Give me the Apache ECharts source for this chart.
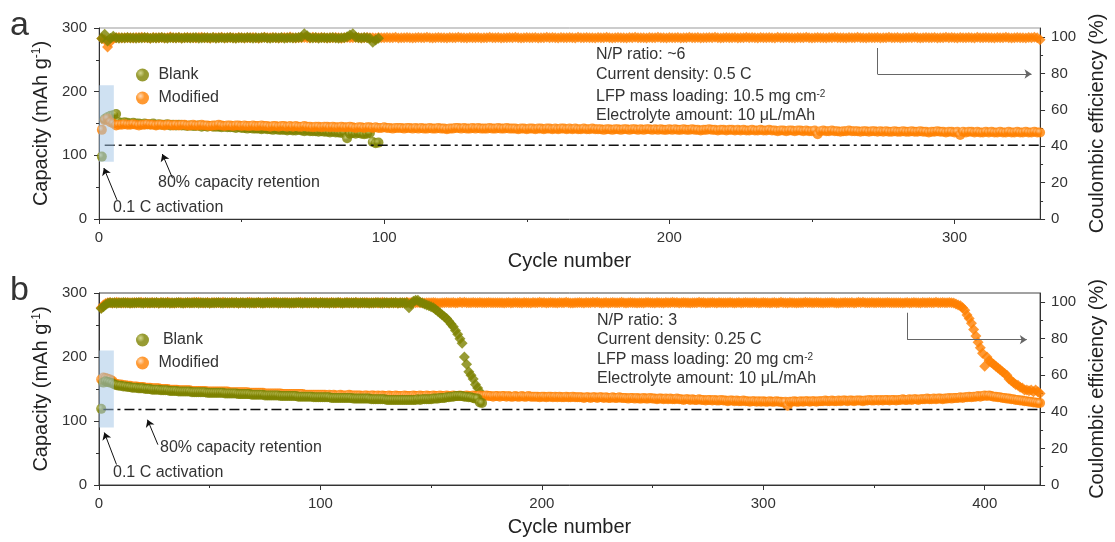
<!DOCTYPE html>
<html>
<head>
<meta charset="utf-8">
<title>Cycling performance</title>
<script src="https://cdn.jsdelivr.net/npm/echarts@6/dist/echarts.min.js"></script>
<style>
  html, body { margin: 0; padding: 0; background: #fff; }
  #main { width: 1115px; height: 542px; }
</style>
</head>
<body>
<div id="main"></div>
<script>
// ---------- data (one value per cycle, cycle = index + 1) ----------

// panel a: N/P ~6, 0.5 C
const blankCapA = [
  98, 157, 160, 162, 163, 165,
  152, 151, 152, 151, 150, 151, 150, 150, 149, 150,
  149, 149, 150, 148, 149, 148, 148, 149, 147, 148,
  147, 148, 147, 147, 146, 147, 146, 146, 147, 145,
  146, 145, 146, 145, 145, 145, 144, 145, 144, 144,
  144, 143, 144, 143, 143, 142, 143, 142, 142, 142,
  141, 142, 141, 141, 140, 141, 140, 140, 140, 139,
  140, 139, 139, 140, 139, 138, 139, 138, 138, 138,
  137, 138, 137, 137, 136, 137, 136, 136, 135, 136,
  127, 134, 135, 134, 135, 134, 133, 134, 135, 121, 119, 120
];
const modCapA = [
  140, 155, 158, 152, 150,
  147, 148, 148, 149, 148, 148, 149, 148, 147, 148,
  148, 149, 148, 148, 147, 148, 148, 147, 148, 148,
  147, 148, 147, 148, 148, 147, 147, 148, 147, 147,
  148, 147, 147, 146, 147, 147, 148, 147, 146, 147,
  147, 146, 147, 147, 146, 147, 146, 146, 147, 146,
  146, 147, 146, 146, 145, 146, 146, 145, 146, 146,
  145, 146, 145, 146, 145, 145, 146, 145, 145, 144,
  145, 145, 144, 145, 145, 144, 145, 144, 144, 145,
  144, 144, 145, 144, 143, 144, 144, 143, 144, 144,
  143, 144, 143, 143, 144, 143, 143, 142, 143, 143,
  143, 142, 143, 143, 142, 143, 142, 143, 142, 142,
  143, 142, 142, 143, 142, 142, 141, 142, 142, 143,
  143, 142, 143, 142, 142, 143, 142, 143, 142, 142,
  142, 143, 142, 142, 143, 142, 142, 143, 142, 142,
  142, 141, 142, 142, 141, 142, 142, 141, 142, 142,
  141, 142, 142, 141, 142, 141, 142, 142, 141, 142,
  141, 142, 141, 141, 142, 141, 141, 142, 141, 141,
  141, 140, 141, 141, 140, 141, 141, 140, 141, 141,
  140, 141, 141, 140, 141, 140, 141, 141, 140, 141,
  140, 141, 140, 140, 141, 140, 141, 140, 140, 141,
  140, 140, 141, 140, 140, 139, 140, 140, 141, 140,
  140, 139, 140, 140, 139, 140, 140, 139, 140, 139,
  140, 139, 139, 140, 139, 139, 140, 139, 139, 140,
  139, 139, 138, 139, 139, 138, 139, 139, 138, 139,
  139, 138, 139, 138, 138, 139, 133, 138, 139, 138,
  138, 139, 138, 138, 137, 138, 138, 139, 138, 138,
  138, 137, 138, 138, 137, 138, 138, 137, 138, 137,
  138, 137, 137, 138, 137, 137, 138, 137, 137, 138,
  137, 137, 138, 137, 137, 136, 137, 137, 138, 137,
  137, 136, 137, 137, 136, 137, 132, 137, 136, 137,
  137, 136, 137, 136, 136, 137, 136, 137, 136, 136,
  137, 136, 136, 137, 136, 136, 137, 136, 136, 137,
  136, 136, 137, 136, 136
];
const blankCeA = [
  99.2, 101.5, 97.8, 99.3, 100.4, 99.6, 99.4, 99.7, 99.5, 99.8,
  99.5, 99.6, 99.4, 99.7, 99.5, 99.8, 99.6, 99.4, 99.7, 99.5,
  99.6, 99.8, 99.5, 99.4, 99.7, 99.6, 99.5, 99.8, 99.4, 99.6,
  99.7, 99.5, 99.6, 99.8, 99.4, 99.5, 99.7, 99.6, 99.5, 99.8,
  99.4, 99.6, 99.7, 99.5, 99.6, 99.8, 99.5, 99.4, 99.7, 99.6,
  99.5, 99.8, 99.6, 99.4, 99.7, 99.5, 99.6, 99.8, 99.5, 99.4,
  99.7, 99.6, 99.5, 99.8, 99.4, 99.6, 99.7, 99.5, 99.6, 99.8,
  99.9, 101.8, 100.8, 99.6, 99.5, 99.8, 99.4, 99.6, 99.7, 99.5,
  99.6, 99.8, 99.5, 99.4, 99.7, 99.6, 100.2, 101.2, 101.8, 99.9,
  99.6, 99.5, 99.8, 99.6, 99.4, 97.2, 98.4, 99.3
];
const modCeA = [
  99.2, 98.6, 94.5, 97.4, 99.4, 99.6, 99.8, 99.5, 99.7, 99.6,
  99.7, 99.5, 99.8, 99.6, 99.9, 99.6, 99.7, 99.4, 99.8, 99.7,
  99.6, 99.8, 99.5, 99.7, 100.1, 99.6, 99.7, 99.8, 99.5, 99.6,
  99.8, 99.6, 99.7, 99.5, 99.8, 99.9, 99.6, 99.7, 99.4, 99.8,
  99.7, 99.6, 99.9, 99.5, 99.7, 99.8, 99.6, 99.5, 99.8, 99.7,
  99.5, 99.7, 99.6, 99.8, 99.7, 99.4, 99.6, 99.9, 99.7, 99.6,
  99.8, 99.7, 99.5, 99.6, 99.8, 99.7, 100.0, 99.6, 99.5, 99.7,
  99.6, 99.8, 99.7, 99.5, 99.9, 99.6, 99.7, 99.8, 99.6, 99.5,
  99.7, 99.6, 99.8, 99.7, 99.4, 99.7, 99.8, 99.6, 99.7, 99.9,
  99.6, 99.5, 99.7, 99.8, 99.6, 99.7, 99.5, 99.8, 99.6, 99.7,
  99.8, 99.6, 99.7, 99.9, 99.5, 99.7, 99.6, 99.8, 99.7, 99.5,
  99.6, 99.8, 99.7, 99.6, 99.9, 99.7, 99.5, 99.6, 99.8, 99.7,
  99.7, 99.5, 99.8, 99.6, 99.7, 99.9, 99.6, 99.7, 99.5, 99.8,
  99.6, 99.7, 99.8, 99.5, 99.7, 99.6, 99.9, 99.7, 99.6, 99.8,
  99.5, 99.7, 99.6, 99.8, 99.7, 99.9, 99.6, 99.5, 99.7, 99.8,
  99.7, 99.6, 99.8, 99.5, 99.7, 99.6, 99.9, 99.7, 99.8, 99.6,
  99.5, 99.8, 99.7, 99.6, 99.8, 99.7, 99.5, 99.9, 99.6, 99.7,
  99.8, 99.6, 99.7, 99.5, 99.8, 99.7, 99.6, 99.9, 99.7, 99.5,
  99.6, 99.8, 99.7, 99.6, 99.5, 99.8, 99.7, 99.9, 99.6, 99.7,
  99.7, 99.5, 99.8, 99.6, 99.7, 99.9, 99.6, 99.7, 99.5, 99.8,
  99.6, 99.7, 99.8, 99.5, 99.7, 99.6, 99.9, 99.7, 99.6, 99.8,
  99.5, 99.7, 99.6, 99.8, 99.7, 99.9, 99.6, 99.5, 99.7, 99.8,
  99.7, 99.6, 99.8, 99.5, 99.7, 99.6, 99.9, 99.7, 99.8, 99.6,
  99.5, 99.8, 99.7, 99.6, 99.8, 99.7, 99.5, 99.9, 99.6, 99.7,
  99.8, 99.6, 99.7, 99.5, 99.8, 99.7, 99.6, 99.9, 99.7, 99.5,
  99.6, 99.8, 99.7, 99.6, 99.5, 99.8, 99.7, 99.9, 99.6, 99.7,
  99.7, 99.5, 99.8, 99.6, 99.7, 99.9, 99.6, 99.7, 99.5, 99.8,
  99.6, 99.7, 99.8, 99.5, 99.7, 99.6, 99.9, 99.7, 99.6, 99.8,
  99.5, 99.7, 99.6, 99.8, 99.7, 99.9, 99.6, 99.5, 99.7, 99.8,
  99.7, 99.6, 99.8, 99.5, 99.7, 99.6, 99.9, 99.7, 99.8, 99.6,
  99.5, 99.8, 99.7, 99.6, 99.8, 99.7, 99.5, 99.9, 99.6, 99.7,
  99.8, 99.6, 99.7, 99.5, 99.8, 99.7, 99.6, 99.9, 99.7, 99.5,
  99.6, 99.8, 99.7, 99.6, 99.5, 99.8, 99.7, 99.9, 99.6, 98.6
];

// panel b: N/P 3, 0.25 C
const blankCapB = [
  119, 160, 162, 161, 160, 159,
  157, 156, 155, 155, 154, 154, 153, 153, 152, 152,
  152, 151, 151, 151, 150, 150, 150, 149, 149, 149,
  149, 148, 148, 148, 148, 147, 147, 147, 147, 146,
  146, 146, 146, 146, 146, 145, 145, 145, 145, 145,
  145, 145, 144, 144, 144, 144, 144, 144, 144, 144,
  143, 143, 143, 143, 143, 143, 142, 142, 142, 142,
  142, 142, 141, 141, 141, 141, 141, 141, 140, 140,
  140, 140, 140, 140, 140, 139, 139, 139, 139, 139,
  139, 139, 139, 138, 138, 138, 138, 138, 138, 138,
  137, 137, 137, 137, 137, 137, 137, 137, 136, 136,
  136, 136, 136, 136, 136, 136, 136, 136, 135, 135,
  135, 135, 135, 135, 135, 135, 134, 134, 134, 134,
  134, 134, 134, 133, 133, 133, 133, 133, 133, 133,
  133, 133, 133, 133, 133, 133, 133, 134, 133, 134,
  134, 134, 134, 134, 135, 135, 135, 136, 136, 136,
  137, 137, 138, 138, 139, 139, 139, 139, 138, 138,
  137, 137, 136, 135, 135, 129, 128
];
const modCapB = [
  165, 168, 167, 166, 165, 163,
  159, 158, 157, 157, 156, 156, 155, 155, 154, 154,
  154, 153, 153, 153, 152, 152, 152, 151, 151, 151,
  151, 150, 150, 150, 150, 149, 149, 149, 149, 148,
  148, 148, 148, 148, 148, 147, 147, 147, 147, 147,
  147, 147, 146, 146, 146, 146, 146, 146, 146, 146,
  146, 146, 145, 145, 145, 145, 145, 145, 145, 145,
  145, 144, 144, 144, 144, 144, 144, 144, 143, 143,
  143, 143, 143, 143, 143, 143, 142, 142, 142, 142,
  142, 142, 142, 142, 142, 142, 141, 141, 141, 141,
  141, 141, 141, 141, 141, 141, 140, 141, 140, 141,
  140, 140, 141, 140, 140, 140, 141, 140, 140, 140,
  140, 140, 139, 140, 140, 139, 140, 140, 139, 140,
  139, 140, 139, 139, 140, 139, 139, 140, 139, 139,
  139, 140, 139, 139, 139, 140, 139, 139, 140, 139,
  139, 140, 139, 139, 140, 139, 139, 140, 139, 139,
  140, 139, 139, 140, 139, 139, 140, 139, 139, 140,
  139, 139, 140, 139, 139, 140, 139, 139, 140, 139,
  139, 138, 139, 139, 138, 139, 139, 138, 139, 138,
  138, 139, 138, 138, 139, 138, 138, 139, 138, 138,
  138, 138, 137, 138, 138, 137, 138, 138, 137, 138,
  137, 138, 137, 137, 138, 137, 137, 138, 137, 137,
  137, 137, 136, 137, 137, 136, 137, 137, 136, 137,
  137, 136, 137, 136, 136, 137, 136, 136, 137, 136,
  136, 136, 135, 136, 136, 135, 136, 135, 135, 136,
  135, 135, 136, 135, 135, 134, 135, 135, 134, 135,
  134, 135, 134, 134, 135, 134, 134, 133, 134, 134,
  133, 134, 133, 133, 134, 133, 133, 132, 133, 133,
  132, 133, 132, 132, 133, 132, 132, 131, 132, 132,
  131, 132, 131, 131, 132, 131, 131, 130, 131, 131,
  130, 131, 130, 131, 130, 130, 131, 130, 130, 131,
  130, 130, 129, 130, 124, 130, 130, 131, 130, 130,
  131, 130, 131, 131, 130, 131, 131, 130, 131, 131,
  131, 132, 131, 131, 132, 131, 131, 132, 131, 132,
  132, 131, 132, 132, 131, 132, 132, 132, 131, 132,
  132, 133, 132, 132, 133, 132, 133, 132, 133, 133,
  132, 133, 133, 132, 133, 133, 134, 133, 133, 134,
  133, 134, 134, 133, 134, 134, 134, 135, 134, 134,
  135, 134, 135, 135, 134, 135, 135, 136, 135, 136,
  136, 136, 137, 136, 137, 137, 138, 137, 138, 138,
  139, 138, 139, 140, 139, 140, 139, 138, 138, 137,
  137, 136, 136, 135, 135, 134, 134, 133, 133, 132,
  132, 131, 131, 130, 130, 129, 129, 128, 128
];
const blankCeB = [
  96.5, 97.5, 98.6,
  99.4, 99.6, 99.5, 99.7, 99.4, 99.6, 99.5, 99.8, 99.5, 99.6,
  99.4, 99.7, 99.5, 99.6, 99.8, 99.5, 99.4, 99.6, 99.7, 99.5,
  99.6, 99.5, 99.8, 99.4, 99.6, 99.7, 99.5, 99.6, 99.4, 99.7,
  99.5, 99.6, 99.8, 99.5, 99.4, 99.6, 99.7, 99.5, 99.6, 99.5,
  99.8, 99.4, 99.6, 99.7, 99.5, 99.6, 99.4, 99.7, 99.5, 99.6,
  99.8, 99.5, 99.4, 99.6, 99.7, 99.5, 99.6, 99.5, 99.8, 99.4,
  99.6, 99.7, 99.5, 99.6, 99.4, 99.7, 99.5, 99.6, 99.8, 99.5,
  99.4, 99.6, 99.7, 99.5, 99.6, 99.5, 99.8, 99.4, 99.6, 99.7,
  99.5, 99.6, 99.4, 99.7, 99.5, 99.6, 99.8, 99.5, 99.4, 99.6,
  99.7, 99.5, 99.6, 99.5, 99.8, 99.4, 99.6, 99.7, 99.5, 99.6,
  99.4, 99.7, 99.5, 99.6, 99.8, 99.5, 99.4, 99.6, 99.7, 99.5,
  99.6, 99.5, 99.8, 99.4, 99.6, 99.7, 99.5, 99.6, 99.4, 99.7,
  99.5, 99.6, 99.8, 99.5, 99.4, 99.6, 99.7, 99.5, 99.6, 99.5,
  99.8, 99.4, 99.6, 99.7, 99.5, 99.6,
  97, 99, 100.5, 101, 101, 100, 99.5, 99, 98.5, 98,
  97.5, 97, 96, 95, 94, 93, 92, 91, 89.5, 88,
  86.5, 84.5, 82.5, 80, 77.5, 70, 66, 62, 60, 58,
  55, 53, 51, 49
];
const modCeB = [
  97, 98.5, 99.2,
  99.6, 99.8, 99.5, 99.7, 99.9, 99.6, 99.7, 99.5, 99.8, 99.6,
  99.7, 99.5, 99.8, 99.6, 99.7, 100.0, 99.6, 99.8, 99.5, 99.7,
  99.8, 99.6, 99.7, 99.5, 99.8, 99.7, 99.6, 99.9, 99.7, 99.5,
  99.5, 99.7, 99.6, 99.8, 99.6, 99.5, 99.8, 99.7, 99.6, 99.9,
  99.7, 99.9, 99.6, 99.5, 99.7, 99.8, 99.5, 99.6, 99.8, 99.7,
  99.6, 99.7, 99.9, 99.6, 99.5, 99.7, 99.8, 99.6, 99.7, 99.5,
  99.7, 99.6, 99.5, 99.8, 99.9, 99.6, 99.7, 99.5, 99.8, 99.7,
  99.6, 99.5, 99.8, 99.6, 99.7, 100.0, 99.6, 99.8, 99.5, 99.6,
  99.8, 99.7, 99.7, 99.5, 99.6, 99.7, 99.6, 99.9, 99.7, 99.8,
  99.5, 99.6, 99.6, 99.8, 99.7, 99.5, 99.8, 99.7, 99.6, 99.7,
  99.7, 99.8, 99.6, 99.5, 99.6, 99.8, 99.5, 99.7, 99.8, 99.6,
  99.6, 99.7, 99.8, 99.6, 99.5, 99.6, 99.8, 99.7, 99.7, 99.5,
  99.6, 99.8, 99.5, 99.7, 99.9, 99.7, 99.6, 99.5, 99.8, 99.6,
  99.7, 99.5, 99.7, 99.6, 99.7, 99.9, 99.6, 99.8, 99.6, 99.7,
  99.8, 99.6, 99.6, 99.5, 99.7, 99.7, 99.6, 99.8, 99.7, 99.5,
  99.5, 99.7, 99.7, 99.8, 99.6, 99.6, 99.8, 99.5, 99.6, 99.9,
  99.7, 99.9, 99.6, 99.6, 99.7, 99.8, 99.6, 99.6, 99.8, 99.7,
  99.6, 99.7, 99.8, 99.6, 99.6, 99.7, 99.7, 99.6, 99.7, 99.5,
  99.6, 99.8, 99.5, 99.7, 99.8, 99.6, 99.7, 99.5, 99.8, 99.6,
  99.7, 99.5, 99.8, 99.6, 99.7, 99.9, 99.6, 99.8, 99.5, 99.7,
  99.8, 99.6, 99.7, 99.5, 99.8, 99.7, 99.6, 99.9, 99.7, 99.5,
  99.5, 99.7, 99.6, 99.8, 99.6, 99.5, 99.8, 99.7, 99.6, 99.9,
  99.7, 99.9, 99.6, 99.5, 99.7, 99.8, 99.5, 99.6, 99.8, 99.7,
  99.6, 99.7, 99.9, 99.6, 99.5, 99.7, 99.8, 99.6, 99.7, 99.5,
  99.7, 99.6, 99.5, 99.8, 99.8, 99.6, 99.7, 99.5, 99.8, 99.7,
  99.6, 99.5, 99.8, 99.6, 99.7, 99.9, 99.6, 99.8, 99.5, 99.6,
  99.8, 99.7, 99.7, 99.5, 99.6, 99.7, 99.6, 99.9, 99.7, 99.8,
  99.5, 99.6, 99.6, 99.8, 99.7, 99.5, 99.8, 99.7, 99.6, 99.7,
  99.7, 99.8, 99.6, 99.5, 99.6, 99.8, 99.5, 99.7, 99.8, 99.6,
  99.6, 99.7, 99.8, 99.6, 99.5, 99.6, 99.8, 99.7, 99.7, 99.5,
  99.6, 99.8, 99.5, 99.7, 99.9, 99.7, 99.6, 99.5, 99.8, 99.6,
  99.7, 99.5, 99.7, 99.6, 99.7, 99.9, 99.6, 99.8, 99.6, 99.7,
  99.8, 99.6, 99.6, 99.5, 99.7, 99.7, 99.6, 99.8, 99.7, 99.5,
  99.5, 99.7, 99.7, 99.8, 99.6, 99.6, 99.8, 99.5, 99.6, 99.9,
  99.7, 99.9, 99.6, 99.6, 99.7, 99.8, 99.6, 99.6, 99.8, 99.7,
  99.6, 99.7, 99.8, 99.6, 99.6, 99.7, 99.7, 99.6, 99.7, 99.5,
  99.6, 99.8, 99.5, 99.7, 99.8, 99.6, 99.7, 99.5, 99.8, 99.6,
  99.7, 99.8, 99.6, 99.7, 99.9, 99.6, 99.7, 99.8, 99.6, 99.7,
  99.8, 99.6,
  99.5, 99, 98.5, 98, 97, 95.5, 93, 91, 88.5, 85,
  81.5, 78, 75, 72, 65, 70, 68, 67, 66, 65,
  64, 63, 62, 61, 60, 58, 57, 56, 55, 54.5,
  53.5, 53, 52, 52, 51.5, 52, 51, 52, 51, 50
];

// 80 % capacity-retention reference lines ([cycle, capacity])
const retentionA = [[2, 116], [330, 116]];
const retentionB = [[2, 118], [425, 118]];

// axis ticks
const capTicks = [0, 100, 200, 300];
const ceTicks = [0, 20, 40, 60, 80, 100];
const cycleTicksA = [0, 100, 200, 300];
const cycleTicksB = [0, 100, 200, 300, 400];

// ---------- chart ----------
const FONT = "'Liberation Sans', Arial, sans-serif";
const OLIVE = '#7d8200';
const ORANGE = '#ff8000';
const INK = '#333';

function toPoints(values) {
  return values.map(function (v, i) { return [i + 1, v]; });
}

function ball(base, light) {
  return {
    type: 'radial', x: 0.35, y: 0.35, r: 0.7,
    colorStops: [{ offset: 0, color: light }, { offset: 0.45, color: base }, { offset: 1, color: base }]
  };
}

function xAxisFor(grid, max, ticks) {
  return {
    gridIndex: grid, type: 'value', min: 0, max: max, interval: 100,
    name: 'Cycle number', nameLocation: 'middle', nameGap: 32,
    nameTextStyle: { fontSize: 20, color: '#222', fontFamily: FONT },
    axisLine: { onZero: false, lineStyle: { color: INK } },
    axisTick: { length: 5, customValues: ticks, lineStyle: { color: INK } },
    minorTick: { show: true, splitNumber: 2, length: 3, lineStyle: { color: INK } },
    axisLabel: { customValues: ticks, margin: 11, fontSize: 15, color: INK, fontFamily: FONT },
    splitLine: { show: false }
  };
}

function capAxis(grid) {
  return {
    gridIndex: grid, type: 'value', position: 'left', min: 0, max: 300, interval: 100,
    name: 'Capacity (mAh g{sup|-1})', nameLocation: 'middle', nameGap: 47, nameRotate: 90,
    nameTextStyle: {
      fontSize: 20, color: '#222', fontFamily: FONT,
      rich: { sup: { fontSize: 12, color: '#222', fontFamily: FONT, verticalAlign: 'top' } }
    },
    axisLine: { show: true, lineStyle: { color: INK } },
    axisTick: { length: 5, customValues: capTicks, lineStyle: { color: INK } },
    minorTick: { show: true, splitNumber: 2, length: 3, lineStyle: { color: INK } },
    axisLabel: { customValues: capTicks, margin: 12, fontSize: 15, color: INK, fontFamily: FONT },
    splitLine: { show: false }
  };
}

function ceAxis(grid) {
  return {
    gridIndex: grid, type: 'value', position: 'right', min: 0, max: 105, interval: 20,
    name: 'Coulombic efficiency (%)', nameLocation: 'middle', nameGap: 46, nameRotate: 90,
    nameTextStyle: { fontSize: 20, color: '#222', fontFamily: FONT },
    axisLine: { show: true, lineStyle: { color: INK } },
    axisTick: { length: 5, customValues: ceTicks, lineStyle: { color: INK } },
    minorTick: { show: true, splitNumber: 2, length: 3, lineStyle: { color: INK } },
    axisLabel: { customValues: ceTicks, margin: 11, fontSize: 15, color: INK, fontFamily: FONT },
    splitLine: { show: false }
  };
}

function capSeries(name, values, xi, yi, color, light) {
  return {
    name: name, type: 'scatter', xAxisIndex: xi, yAxisIndex: yi,
    symbol: 'circle', symbolSize: 10, data: toPoints(values),
    itemStyle: { color: ball(color, light) }, emphasis: { disabled: true }
  };
}

function ceSeries(name, values, xi, yi, color, arrow) {
  const s = {
    name: name, type: 'scatter', xAxisIndex: xi, yAxisIndex: yi,
    symbol: 'diamond', symbolSize: 11, data: toPoints(values),
    itemStyle: { color: color }, emphasis: { disabled: true }
  };
  if (arrow) {
    // bent arrow pointing to the right-hand axis
    s.markLine = {
      silent: true, animation: false, symbol: ['none', 'arrow'], symbolSize: 7,
      label: { show: false }, emphasis: { disabled: true },
      lineStyle: { type: 'solid', color: '#666', width: 1 },
      data: [
        [{ coord: arrow[0], symbol: 'none' }, { coord: arrow[1], symbol: 'none' }],
        [{ coord: arrow[1] }, { coord: arrow[2] }]
      ]
    };
  }
  return s;
}

function retentionSeries(points, xi, yi, box, arrows) {
  return {
    name: 'retention', type: 'line', xAxisIndex: xi, yAxisIndex: yi, z: 6,
    data: points, symbol: 'none', silent: true,
    lineStyle: { color: '#111', width: 1.5, type: [10, 4, 3, 4] },
    markArea: {
      silent: true, z: 10,
      itemStyle: { color: 'rgba(160,195,230,0.5)' },
      data: [[{ coord: box[0] }, { coord: box[1] }]]
    },
    markLine: {
      silent: true, animation: false, symbol: ['none', 'arrow'], symbolSize: 7,
      label: { show: false }, emphasis: { disabled: true },
      lineStyle: { type: 'solid', color: '#111', width: 1 },
      data: arrows.map(function (a) { return [{ coord: a[0] }, { coord: a[1] }]; })
    }
  };
}

function legendAt(top, pad) {
  return {
    left: 131, top: top, orient: 'vertical', data: ['Blank', 'Modified'],
    icon: 'circle', itemWidth: 13, itemHeight: 13, itemGap: 7, selectedMode: false,
    formatter: function (n) { return (n === 'Blank' ? pad : ' ') + n; },
    textStyle: { fontSize: 16, color: INK, fontFamily: FONT }
  };
}

function text(x, y, str, size) {
  return {
    type: 'text', x: x, y: y, silent: true,
    style: {
      text: str, fontSize: size || 16, fontFamily: FONT, fill: INK,
      align: 'left', verticalAlign: 'middle',
      rich: { sup: { fontSize: 10, fontFamily: FONT, fill: INK, verticalAlign: 'top' } }
    }
  };
}

const chart = echarts.init(document.getElementById('main'), null, { renderer: 'canvas' });

chart.setOption({
  animation: false,
  backgroundColor: '#fff',
  textStyle: { fontFamily: FONT },
  grid: [
    { left: 99, top: 28, width: 947, height: 191, show: true, borderColor: '#999', borderWidth: 1 },
    { left: 99, top: 293, width: 947, height: 192, show: true, borderColor: '#444', borderWidth: 1 }
  ],
  xAxis: [xAxisFor(0, 330, cycleTicksA), xAxisFor(1, 425, cycleTicksB)],
  yAxis: [capAxis(0), ceAxis(0), capAxis(1), ceAxis(1)],
  legend: [legendAt(62, ' '), legendAt(327, '  ')],
  series: [
    // panel a
    ceSeries('Modified CE', modCeA, 0, 1, ORANGE, [[273, 94], [273, 79.7], [327, 79.7]]),
    ceSeries('Blank CE', blankCeA, 0, 1, OLIVE),
    capSeries('Blank', blankCapA, 0, 0, OLIVE, '#c9cd72'),
    capSeries('Modified', modCapA, 0, 0, ORANGE, '#ffd2a6'),
    retentionSeries(retentionA, 0, 0, [[0, 210], [5.2, 90]],
      [[[25.8, 64], [22.2, 102]], [[6.3, 30], [1.7, 80]]]),
    // panel b
    ceSeries('Modified CE', modCeB, 1, 3, ORANGE, [[365, 94.2], [365, 79.5], [419, 79.5]]),
    ceSeries('Blank CE', blankCeB, 1, 3, OLIVE),
    capSeries('Modified', modCapB, 1, 2, ORANGE, '#ffd2a6'),
    capSeries('Blank', blankCapB, 1, 2, OLIVE, '#c9cd72'),
    retentionSeries(retentionB, 1, 2, [[0, 210], [6.7, 90]],
      [[[26.6, 63], [21.9, 102]], [[7.9, 32], [2.4, 82]]])
  ],
  graphic: [
    text(10, 26, 'a', 34),
    text(10, 291, 'b', 34),
    text(596, 55, 'N/P ratio: ~6'),
    text(596, 75, 'Current density: 0.5 C'),
    text(596, 97, 'LFP mass loading: 10.5 mg cm{sup|-2}'),
    text(596, 116, 'Electrolyte amount: 10 \u03bcL/mAh'),
    text(158, 183, '80% capacity retention'),
    text(113, 208, '0.1 C activation'),
    text(597, 321, 'N/P ratio: 3'),
    text(597, 340, 'Current density: 0.25 C'),
    text(597, 360, 'LFP mass loading: 20 mg cm{sup|-2}'),
    text(597, 379, 'Electrolyte amount: 10 \u03bcL/mAh'),
    text(160, 448, '80% capacity retention'),
    text(113, 473, '0.1 C activation')
  ]
});
</script>
</body>
</html>
